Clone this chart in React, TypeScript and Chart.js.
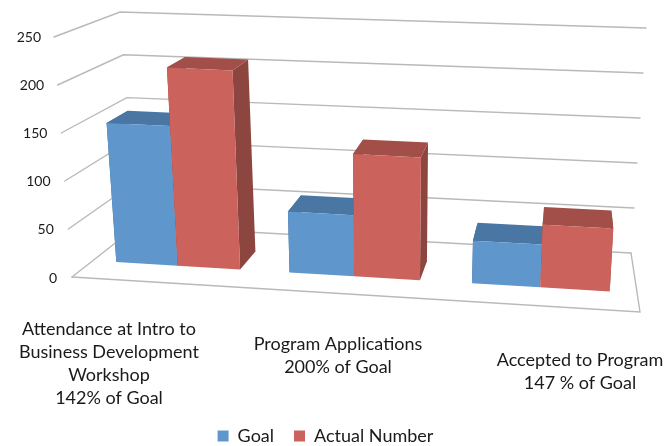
import React, { useEffect, useRef } from "react";
import { Chart, registerables } from "chart.js";

Chart.register(...registerables);

const categories = [
  ["Attendance at Intro to", "Business Development", "Workshop", "142% of Goal"],
  ["Program Applications", "200% of Goal"],
  ["Accepted to Program", "147 % of Goal"],
];
const goal = [150, 65, 45];
const actualNumber = [213, 130, 66];
const valueTicks = [0, 50, 100, 150, 200, 250];

// Screen corners of the 3D box: front/back, left/right, bottom/top.
const FLB = [72, 277], FLT = [54, 37];
const FRB = [640, 312], FRT = [655, 67];
const BLB = [137, 226], BLT = [120, 12];
const BRB = [631, 253], BRT = [646, 28];

const BAR_NEAR = 0.32;
const BAR_FAR = 0.66;
const WARP = 0.083;

const categoryLabelX = [109, 338, 580];
const categoryLabelTop = [317.5, 332.5, 348.5];

const mix = (a: number[], b: number[], t: number) => [a[0] + (b[0] - a[0]) * t, a[1] + (b[1] - a[1]) * t];

// Maps normalised axis position, value and depth onto the canvas.
function project(u: number, v: number, d: number) {
  const w = u / (1 + WARP * (1 - u));
  const front = mix(mix(FLB, FRB, w), mix(FLT, FRT, w), v);
  const back = mix(mix(BLB, BRB, w), mix(BLT, BRT, w), v);
  return mix(front, back, d);
}

function fillFace(ctx: CanvasRenderingContext2D, pts: number[][], color: string) {
  ctx.beginPath();
  pts.forEach((p, i) => (i ? ctx.lineTo(p[0], p[1]) : ctx.moveTo(p[0], p[1])));
  ctx.closePath();
  ctx.fillStyle = color;
  ctx.fill();
}

function strokePath(ctx: CanvasRenderingContext2D, pts: number[][]) {
  ctx.beginPath();
  pts.forEach((p, i) => (i ? ctx.lineTo(p[0], p[1]) : ctx.moveTo(p[0], p[1])));
  ctx.stroke();
}

const faceColors = [
  { front: "#5f96cc", top: "#4a76a3", side: "#3f6a96" },
  { front: "#cb625c", top: "#a14f48", side: "#8d4540" },
];

const box3d = {
  id: "box3d",
  beforeDatasetsDraw(chart: any) {
    const { ctx, chartArea, scales } = chart;
    const yScale = scales.y;
    const uOf = (x: number) => (x - chartArea.left) / (chartArea.right - chartArea.left);
    const vOf = (y: number) => (chartArea.bottom - y) / (chartArea.bottom - chartArea.top);

    ctx.save();
    ctx.lineCap = "round";
    ctx.strokeStyle = "#b9b9b9";
    ctx.lineWidth = 1.4;
    valueTicks.forEach((t) => {
      const v = vOf(yScale.getPixelForValue(t));
      strokePath(ctx, [project(0, v, 0), project(0, v, 1), project(1, v, 1)]);
    });
    strokePath(ctx, [project(0, 0, 0), project(1, 0, 0), project(1, 0, 1)]);

    chart.data.labels.forEach((_: unknown, i: number) => {
      chart.data.datasets.forEach((_d: unknown, di: number) => {
        const el = chart.getDatasetMeta(di).data[i];
        const u0 = uOf(el.x - el.width / 2);
        const u1 = uOf(el.x + el.width / 2);
        const v0 = vOf(el.base);
        const v1 = vOf(el.y);
        const c = faceColors[di];
        const P = project;
        fillFace(ctx, [P(u0, v0, BAR_NEAR), P(u0, v1, BAR_NEAR), P(u0, v1, BAR_FAR), P(u0, v0, BAR_FAR)], c.side);
        fillFace(ctx, [P(u1, v0, BAR_NEAR), P(u1, v1, BAR_NEAR), P(u1, v1, BAR_FAR), P(u1, v0, BAR_FAR)], c.side);
        fillFace(ctx, [P(u0, v1, BAR_NEAR), P(u1, v1, BAR_NEAR), P(u1, v1, BAR_FAR), P(u0, v1, BAR_FAR)], c.top);
        fillFace(ctx, [P(u0, v0, BAR_NEAR), P(u1, v0, BAR_NEAR), P(u1, v1, BAR_NEAR), P(u0, v1, BAR_NEAR)], c.front);
      });
    });
    ctx.restore();
    return false;
  },
};

export default function App() {
  const ref = useRef<HTMLCanvasElement>(null);
  useEffect(() => {
    const chart = new Chart(ref.current as HTMLCanvasElement, {
      type: "bar",
      data: {
        labels: categories as any,
        datasets: [
          { label: "Goal", data: goal, backgroundColor: faceColors[0].front, categoryPercentage: 0.72, barPercentage: 1 },
          { label: "Actual Number", data: actualNumber, backgroundColor: faceColors[1].front, categoryPercentage: 0.72, barPercentage: 1 },
        ],
      },
      plugins: [box3d],
      options: {
        responsive: false,
        animation: false,
        layout: { padding: { top: 37, right: 16, left: 0, bottom: -9 } },
        plugins: {
          tooltip: { enabled: false },
          legend: {
            position: "bottom",
            labels: {
              boxWidth: 11,
              boxHeight: 11,
              padding: 20,
              color: "#1a1a1a",
              font: { family: "Lato", size: 18 },
            },
          },
        },
        scales: {
          x: {
            grid: { display: false },
            border: { display: false },
            ticks: {
              autoSkip: false,
              maxRotation: 0,
              minRotation: 0,
              color: "#1a1a1a",
              font: { family: "Lato", size: 18, lineHeight: 23 / 18 },
            },
            afterFit(scale: any) {
              scale.height = 129;
            },
            afterUpdate(scale: any) {
              const base = scale.getLabelItems;
              scale.getLabelItems = function (area: any) {
                return base.call(scale, area).map((it: any, i: number) => ({
                  ...it,
                  options: { ...it.options, translation: [categoryLabelX[i], categoryLabelTop[i]] },
                }));
              };
            },
          },
          y: {
            min: 0,
            max: 250,
            grid: { display: false },
            border: { display: false },
            ticks: {
              stepSize: 50,
              color: "#1a1a1a",
              font: { family: "Lato", size: 14 },
            },
            afterFit(scale: any) {
              scale.width = 72;
            },
            afterUpdate(scale: any) {
              const base = scale.getLabelItems;
              scale.getLabelItems = function (area: any) {
                return base.call(scale, area).map((it: any, i: number) => {
                  const edge = 57 - (16 * scale.ticks[i].value) / 250;
                  return { ...it, options: { ...it.options, translation: [edge, it.options.translation[1]] } };
                });
              };
            },
          },
        },
      },
    } as any);
    return () => chart.destroy();
  }, []);
  return (
    <div style={{ position: "absolute", left: 0, top: 0 }}>
      <canvas ref={ref} width={667} height={446} style={{ display: "block" }} />
    </div>
  );
}
